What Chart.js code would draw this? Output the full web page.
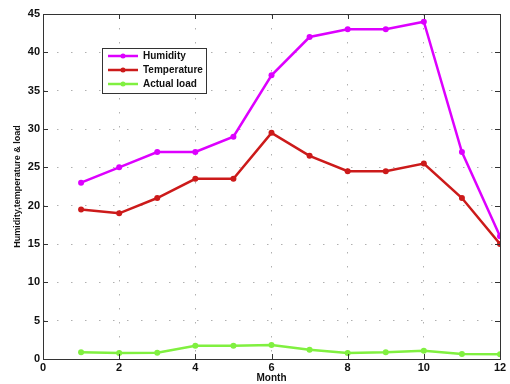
<!DOCTYPE html>
<html><head><meta charset="utf-8">
<script src="https://cdn.jsdelivr.net/npm/chart.js@4.4.0/dist/chart.umd.min.js"></script>
<style>html,body{margin:0;padding:0;background:#fff}#wrap{width:510px;height:384px}</style>
</head><body><div id="wrap"><canvas id="c" width="510" height="384"></canvas></div>
<script>
const months = [1,2,3,4,5,6,7,8,9,10,11,12];
const humidity = [23,25,27,27,29,37,42,43,43,44,27,16];
const temperature = [19.5,19,21,23.5,23.5,29.5,26.5,24.5,24.5,25.5,21,15];
const actualLoad = [0.87,0.78,0.82,1.74,1.74,1.83,1.2,0.78,0.87,1.08,0.65,0.62];
const xTicks = [0,2,4,6,8,10,12];
const yTicks = [0,5,10,15,20,25,30,35,40,45];

const toXY = arr => months.map((m,i)=>({x:m,y:arr[i]}));
const FONT = "'Liberation Sans', Arial, sans-serif";

const boxPlugin = {
  id:'box',
  afterDraw(chart){
    const {ctx, chartArea:a, scales} = chart;
    ctx.save();
    ctx.strokeStyle='#333'; ctx.lineWidth=1;
    ctx.strokeRect(a.left+0.5,a.top+0.5,a.right-a.left,a.bottom-a.top);
    const L=5;
    ctx.beginPath();
    xTicks.forEach(v=>{const x=Math.round(scales.x.getPixelForValue(v))+0.5;
      ctx.moveTo(x,a.bottom); ctx.lineTo(x,a.bottom-L);
      ctx.moveTo(x,a.top); ctx.lineTo(x,a.top+L);});
    yTicks.forEach(v=>{const y=Math.round(scales.y.getPixelForValue(v))+0.5;
      ctx.moveTo(a.left,y); ctx.lineTo(a.left+L,y);
      ctx.moveTo(a.right,y); ctx.lineTo(a.right-L,y);});
    ctx.stroke();
    // legend
    const lx=102, ly=48, lw=104, lh=45;
    ctx.fillStyle='#fff'; ctx.fillRect(lx,ly,lw,lh);
    ctx.strokeStyle='#333'; ctx.strokeRect(lx+0.5,ly+0.5,lw,lh);
    chart.data.datasets.forEach((ds,i)=>{
      const y=ly+8+i*14;
      ctx.strokeStyle=ds.borderColor; ctx.lineWidth=2.5;
      ctx.beginPath(); ctx.moveTo(lx+6,y); ctx.lineTo(lx+36,y); ctx.stroke();
      ctx.fillStyle=ds.borderColor; ctx.beginPath(); ctx.arc(lx+21,y,2.5,0,Math.PI*2); ctx.fill();
      ctx.fillStyle='#111'; ctx.font="bold 10px "+FONT; ctx.textBaseline='middle'; ctx.textAlign='left';
      ctx.fillText(ds.label,lx+41,y+0.5);
    });
    ctx.restore();
  }
};

const mk=(label,data,color)=>({label,data:toXY(data),borderColor:color,backgroundColor:color,
  borderWidth:2.5,pointRadius:3,pointHoverRadius:3,pointBorderWidth:0,tension:0});

new Chart(document.getElementById('c'),{
  type:'line',
  data:{datasets:[
    mk('Humidity',humidity,'#DD00FF'),
    mk('Temperature',temperature,'#CC1A1A'),
    mk('Actual load',actualLoad,'#80F040')
  ]},
  options:{
    responsive:false, animation:false, events:[],
    layout:{padding:{top:14,right:10,left:0,bottom:0}},
    plugins:{legend:{display:false},tooltip:{enabled:false}},
    scales:{
      x:{type:'linear',min:0,max:12,
        afterBuildTicks(s){s.ticks=xTicks.map(v=>({value:v}));},
        afterFit(s){s.height=25;},
        grid:{color:'#b0b0b0',lineWidth:1,drawTicks:false,drawOnChartArea:true},
        border:{display:false,dash:[1.5,12.5]},
        ticks:{color:'#111',font:{family:FONT,size:11,weight:'bold'},padding:2,maxRotation:0,autoSkip:false},
        title:{display:true,text:'Month',color:'#111',font:{family:FONT,size:10,weight:'bold'},padding:{top:-2,bottom:0}}
      },
      y:{min:0,max:45,
        afterBuildTicks(s){s.ticks=yTicks.map(v=>({value:v}));},
        afterFit(s){s.width=43;},
        grid:{color:'#b0b0b0',lineWidth:1,drawTicks:false},
        border:{display:false,dash:[1.5,12.5]},
        ticks:{color:'#111',font:{family:FONT,size:11,weight:'bold'},padding:3,autoSkip:false},
        title:{display:true,text:'Humidity,temperature & load',color:'#111',font:{family:FONT,size:9,weight:'bold'},padding:{top:12,bottom:0}}
      }
    }
  },
  plugins:[boxPlugin]
});
</script></body></html>
